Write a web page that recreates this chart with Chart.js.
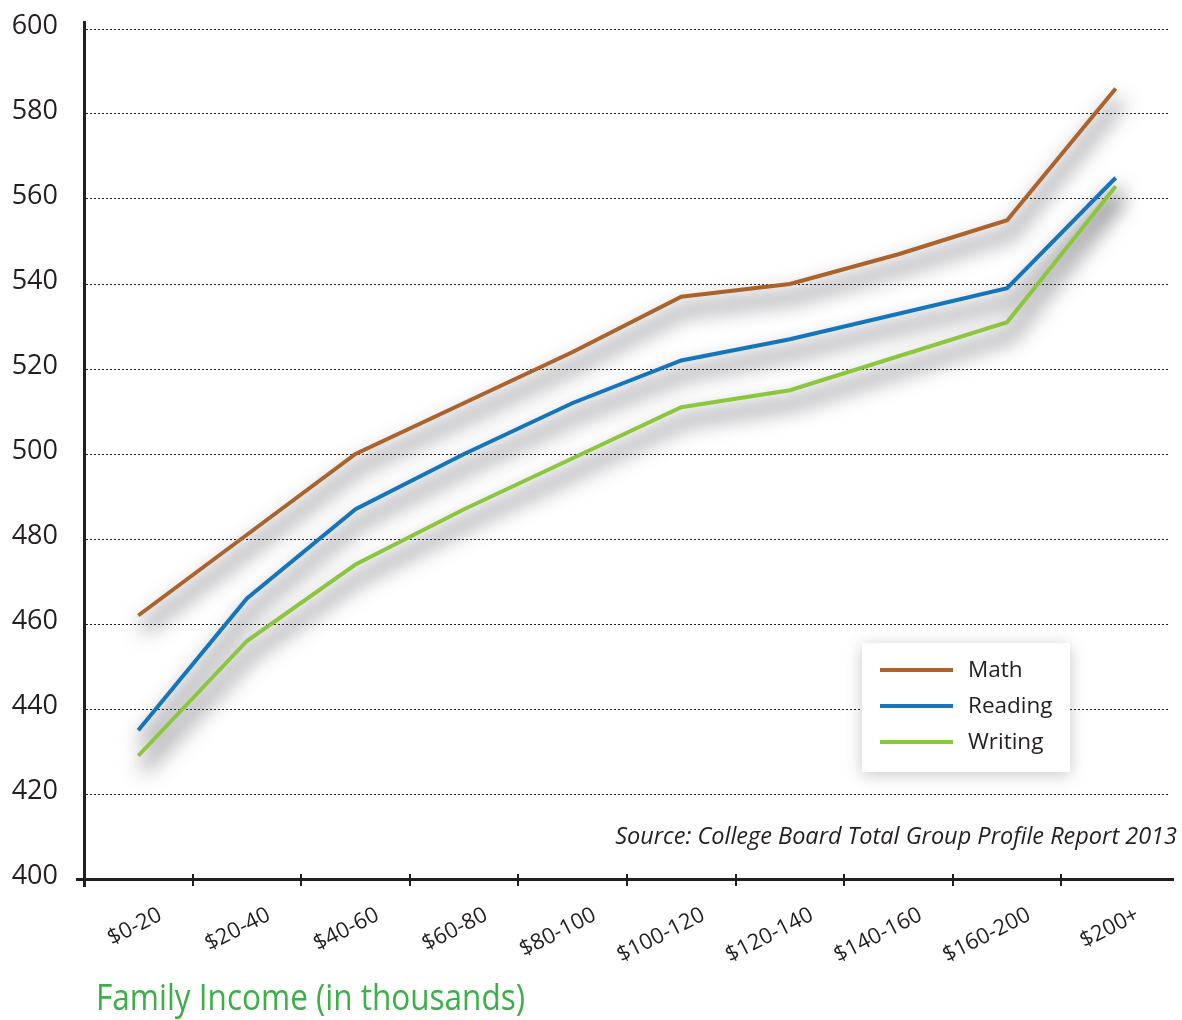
<!DOCTYPE html>
<html><head><meta charset="utf-8">
<script src="https://cdn.jsdelivr.net/npm/chart.js@4.4.1/dist/chart.umd.min.js"></script>
<style>html,body{margin:0;padding:0;background:#fff}#wrap{width:1182px;height:1020px;position:relative}</style>
</head><body><div id="wrap"><canvas id="c"></canvas></div>
<script>
const categories = ['$0-20','$20-40','$40-60','$60-80','$80-100','$100-120','$120-140','$140-160','$160-200','$200+'];
const mathScores = [462,481,500,512,524,537,540,547,555,586];
const readingScores = [435,466,487,500,512,522,527,533,539,565];
const writingScores = [429,456,474,487,499,511,515,523,531,563];
const yTickValues = [400,420,440,460,480,500,520,540,560,580,600];
const seriesNames = ['Math','Reading','Writing'];
const seriesColors = ['#ab622b','#1475bd','#8cc63f'];
const axisTitle = 'Family Income (in thousands)';
const sourceNote = 'Source: College Board Total Group Profile Report 2013';

const INK = '#231f20';
const FONT = '"Open Sans", "Noto Sans", sans-serif';

const lineShadow = {
  id: 'lineShadow',
  beforeDatasetsDraw(chart) {
    const ctx = chart.ctx, dpr = chart.currentDevicePixelRatio, off = 5000;
    chart.data.datasets.forEach((ds, i) => {
      const meta = chart.getDatasetMeta(i);
      if (!meta.visible) return;
      ctx.save();
      ctx.beginPath();
      meta.data.forEach((pt, j) => { if (j) ctx.lineTo(pt.x - off, pt.y); else ctx.moveTo(pt.x - off, pt.y); });
      ctx.lineWidth = 10; ctx.strokeStyle = '#000';
      ctx.shadowColor = 'rgba(55,55,65,0.55)';
      ctx.shadowBlur = 20;
      ctx.shadowOffsetX = (off + 4) * dpr;
      ctx.shadowOffsetY = 13 * dpr;
      ctx.stroke();
      ctx.restore();
    });
  }
};

const decorations = {
  id: 'decorations',
  afterDraw(chart) {
    const ctx = chart.ctx, a = chart.chartArea, xs = chart.scales.x;
    // axis extensions and tick marks crossing the axis
    ctx.save();
    ctx.strokeStyle = INK; ctx.lineWidth = 3;
    ctx.beginPath();
    ctx.moveTo(a.left + 0.5, a.top - 8); ctx.lineTo(a.left + 0.5, a.top);
    ctx.moveTo(a.left + 0.5, a.bottom); ctx.lineTo(a.left + 0.5, a.bottom + 8);
    ctx.moveTo(a.left - 8, a.bottom + 0.5); ctx.lineTo(a.left, a.bottom + 0.5);
    ctx.moveTo(a.right, a.bottom + 0.5); ctx.lineTo(a.right + 4, a.bottom + 0.5);
    ctx.stroke();
    ctx.lineWidth = 2;
    ctx.beginPath();
    for (let i = 1; i < categories.length; i++) {
      const x = Math.round((xs.getPixelForTick(i - 1) + xs.getPixelForTick(i)) / 2);
      ctx.moveTo(x, a.bottom - 5); ctx.lineTo(x, a.bottom);
    }
    ctx.stroke();
    ctx.restore();

    // legend box
    const bx = a.right - 308, by = a.bottom - 236, bw = 208, bh = 129;
    ctx.save();
    ctx.shadowColor = 'rgba(0,0,0,0.22)';
    ctx.shadowBlur = 16; ctx.shadowOffsetY = 3;
    ctx.fillStyle = '#fff';
    ctx.fillRect(bx, by, bw, bh);
    ctx.restore();
    ctx.save();
    chart.data.datasets.forEach((ds, i) => {
      const y = by + 27 + i * 36;
      ctx.strokeStyle = ds.borderColor; ctx.lineWidth = 4;
      ctx.beginPath(); ctx.moveTo(bx + 18, y); ctx.lineTo(bx + 91, y); ctx.stroke();
      ctx.fillStyle = INK; ctx.font = '22.5px ' + FONT;
      ctx.textAlign = 'left'; ctx.textBaseline = 'middle';
      ctx.fillText(ds.label, bx + 106, y + 1);
    });
    ctx.restore();

    // source note
    ctx.save();
    ctx.fillStyle = INK; ctx.font = 'italic 23.5px ' + FONT;
    ctx.textAlign = 'right'; ctx.textBaseline = 'alphabetic';
    ctx.fillText(sourceNote, a.right + 7, a.bottom - 35);
    ctx.restore();

    // x axis title (condensed look)
    ctx.save();
    ctx.fillStyle = '#3dae48'; ctx.font = '37px ' + FONT;
    ctx.textAlign = 'left'; ctx.textBaseline = 'alphabetic';
    const w = ctx.measureText(axisTitle).width;
    const sx = 429 / w;
    ctx.translate(a.left + 12, a.bottom + 131);
    ctx.scale(sx, 1);
    ctx.fillText(axisTitle, 0, 0);
    ctx.restore();
  }
};

const datasets = [mathScores, readingScores, writingScores].map((vals, i) => ({
  label: seriesNames[i],
  data: vals,
  borderColor: seriesColors[i],
  backgroundColor: seriesColors[i],
  borderWidth: 4,
  pointRadius: 0,
  pointHoverRadius: 0,
  tension: 0,
  fill: false
}));

new Chart(document.getElementById('c'), {
  type: 'line',
  data: { labels: categories, datasets },
  plugins: [lineShadow, decorations],
  options: {
    responsive: true,
    maintainAspectRatio: false,
    animation: false,
    devicePixelRatio: 1,
    layout: { padding: { left: 0, right: 12, top: 29, bottom: 0 } },
    plugins: { legend: { display: false }, tooltip: { enabled: false }, title: { display: false } },
    scales: {
      x: {
        type: 'category',
        offset: true,
        grid: { display: true, offset: true, drawOnChartArea: false, drawTicks: true, tickLength: 7, lineWidth: 2,
                color: INK, tickWidth: 2,
                tickColor: c => (c.type === 'tick' ? INK : 'rgba(0,0,0,0)') },
        border: { display: true, color: INK, width: 3 },
        ticks: { color: INK, font: { family: FONT, size: 22 }, minRotation: 27, maxRotation: 27, autoSkip: false, padding: 16, labelOffset: 22 },
        afterFit(scale) { scale.height = 141; scale.paddingLeft = 0; scale.paddingRight = 0; }
      },
      y: {
        min: 400, max: 600,
        afterBuildTicks(scale) { scale.ticks = yTickValues.map(v => ({ value: v })); },
        grid: { display: true, drawTicks: false, color: INK, lineWidth: 1 },
        border: { display: true, color: INK, width: 3, dash: [2, 2] },
        ticks: { color: INK, font: { family: FONT, size: 27 }, padding: 26, labelOffset: -3 },
        afterFit(scale) { scale.width = 84; scale.paddingTop = 0; scale.paddingBottom = 0; }
      }
    }
  }
});
</script>
</body></html>
